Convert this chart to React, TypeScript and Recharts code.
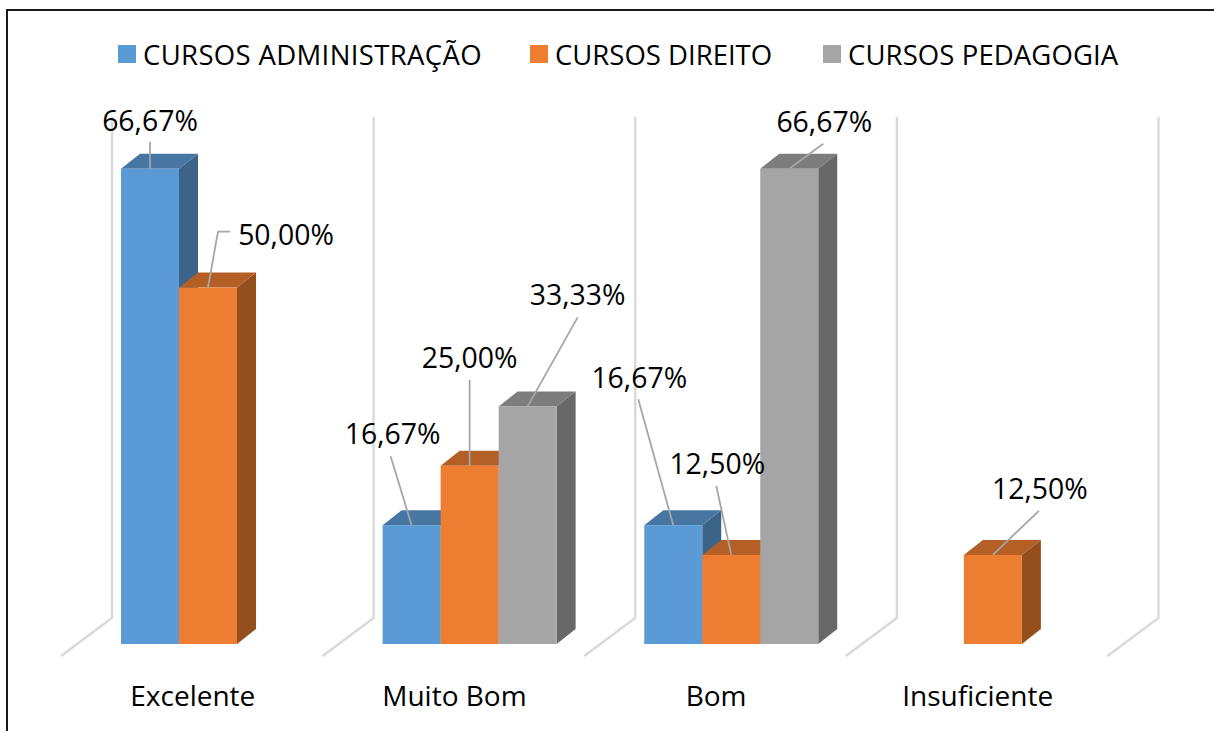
import { Bar, BarChart, LabelList, Legend, ReferenceLine, XAxis, YAxis } from "recharts"

const categories = ["Excelente", "Muito Bom", "Bom", "Insuficiente"]
const administracao = [66.67, 16.67, 16.67, null]
const direito = [50.0, 25.0, 12.5, 12.5]
const pedagogia = [null, 33.33, 66.67, null]

const chartData = categories.map((name, i) => ({
  name,
  administracao: administracao[i],
  direito: direito[i],
  pedagogia: pedagogia[i],
}))

const FONT = "'Open Sans', sans-serif"
const DEPTH_X = 19
const DEPTH_Y = 15

// where each data label sits, relative to the top centre of its bar
// [text dx, text dy, leader end dx, leader end dy, elbow dx, elbow dy]
// LabelList skips empty values, so only bars that exist get an entry
const adminLabels = [
  [0, -49, 0, -27],
  [-19, -92, -21, -69],
  [-34, -148, -35, -126],
]
const direitoLabels = [
  [78, -54, 10, -56, 22, -56],
  [0, -109, 0, -86],
  [-14, -92, -15, -69],
  [47, -67, 46, -44],
]
const pedagogiaLabels = [
  [50, -112, 50, -89],
  [35, -48, 34, -25],
]

// legend item widths, swatch to swatch, and small tracking fixes per item
const legendWidths = [412, 293, 300]
const legendSpacing = [0.35, 0, 0.1]

const formatValue = (v: number) => v.toFixed(2).replace(".", ",") + "%"

function Bar3D({ x, y, width, height, front, top, side }: any) {
  if (!height) return null
  const r = x + width
  const b = y + height
  return (
    <g>
      <polygon
        points={`${x},${y} ${x + DEPTH_X},${y - DEPTH_Y} ${r + DEPTH_X},${y - DEPTH_Y} ${r},${y}`}
        fill={top}
      />
      <polygon
        points={`${r},${y} ${r + DEPTH_X},${y - DEPTH_Y} ${r + DEPTH_X},${b - DEPTH_Y} ${r},${b}`}
        fill={side}
      />
      <rect x={x} y={y} width={width} height={height} fill={front} />
    </g>
  )
}

const makeLabel = (offsets: any[]) => (props: any) => {
  const { x, y, width, value, index } = props
  const o = offsets[index]
  if (value == null || !o) return null
  const cx = x + width / 2
  const path =
    o.length > 4
      ? `M${cx},${y} L${cx + o[2]},${y + o[3]} L${cx + o[4]},${y + o[5]}`
      : `M${cx},${y} L${cx + o[2]},${y + o[3]}`
  return (
    <g>
      <path d={path} fill="none" stroke="#A6A6A6" strokeWidth={1.8} />
      <text
        x={cx + o[0]}
        y={y + o[1]}
        textAnchor="middle"
        dominantBaseline="central"
        fontFamily={FONT}
        fontSize={28.4}
        fill="#000"
      >
        {formatValue(value)}
      </text>
    </g>
  )
}

// back wall + floor edge, drawn from the category band edge the axis gives us
const Wall = (props: any) => {
  const { x1, y1, y2 } = props
  const topY = Math.min(y1, y2)
  const bottomY = Math.max(y1, y2)
  const wx = x1 + 35
  return (
    <polyline
      points={`${wx},${topY - 28} ${wx},${bottomY - 26} ${x1 - 16},${bottomY + 12}`}
      fill="none"
      stroke="#D9D9D9"
      strokeWidth={2.4}
    />
  )
}

const LegendRow = ({ payload }: any) => (
  <div style={{ display: "flex", alignItems: "center", height: 40 }}>
    {(payload || []).map((item: any, i: number) => (
      <div key={item.value} style={{ display: "flex", alignItems: "center", width: legendWidths[i], flex: "none" }}>
        <span style={{ width: 18, height: 18, background: item.color, marginRight: 7, flex: "none" }} />
        <span style={{ fontFamily: FONT, fontSize: 27.5, letterSpacing: legendSpacing[i], color: "#000", whiteSpace: "nowrap" }}>
          {item.value}
        </span>
      </div>
    ))}
  </div>
)

export default function App() {
  return (
    <div style={{ position: "absolute", left: 0, top: 0, width: 1214, height: 731, background: "#fff", overflow: "hidden" }}>
      <div style={{ position: "absolute", left: 6, top: 9, width: 1300, height: 800, border: "2px solid #1a1a1a" }} />
      <BarChart
        width={1214}
        height={731}
        data={chartData}
        barCategoryGap={44}
        barGap={0}
        margin={{ top: 105, right: 90.5, bottom: 0, left: 77 }}
        style={{ position: "absolute", left: 0, top: 0 }}
      >
        <XAxis
          dataKey="name"
          axisLine={false}
          tickLine={false}
          interval={0}
          height={87}
          tick={{ fill: "#000", fontSize: 28, fontFamily: FONT, dx: -15, dy: 34 }}
        />
        <YAxis hide domain={[0, 70]} width={0} />
        <Legend
          verticalAlign="top"
          content={<LegendRow />}
          wrapperStyle={{ left: 118, top: 34, width: 1090 }}
        />
        {categories.map((c) => (
          <ReferenceLine key={c} x={c} position="start" shape={Wall} />
        ))}
        <ReferenceLine x={categories[3]} position="end" shape={Wall} />
        <Bar
          dataKey="administracao"
          name="CURSOS ADMINISTRAÇÃO"
          fill="#5B9BD5"
          barSize={58}
          isAnimationActive={false}
          shape={<Bar3D front="#5B9BD5" top="#4876A2" side="#3C6488" />}
        >
          <LabelList dataKey="administracao" content={makeLabel(adminLabels)} />
        </Bar>
        <Bar
          dataKey="direito"
          name="CURSOS DIREITO"
          fill="#ED7D31"
          barSize={58}
          isAnimationActive={false}
          shape={<Bar3D front="#ED7D31" top="#B45F25" side="#954F1C" />}
        >
          <LabelList dataKey="direito" content={makeLabel(direitoLabels)} />
        </Bar>
        <Bar
          dataKey="pedagogia"
          name="CURSOS PEDAGOGIA"
          fill="#A5A5A5"
          barSize={58}
          isAnimationActive={false}
          shape={<Bar3D front="#A5A5A5" top="#7D7D7D" side="#686868" />}
        >
          <LabelList dataKey="pedagogia" content={makeLabel(pedagogiaLabels)} />
        </Bar>
      </BarChart>
    </div>
  )
}
